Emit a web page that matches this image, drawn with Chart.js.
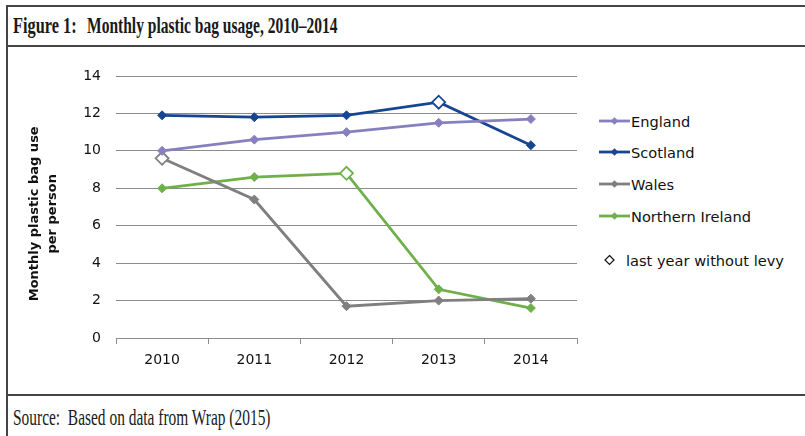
<!DOCTYPE html>
<html>
<head>
<meta charset="utf-8">
<script src="https://cdn.jsdelivr.net/npm/chart.js@4.4.1/dist/chart.umd.min.js"></script>
<style>
  html, body { margin: 0; padding: 0; background: #fff; }
  #page { position: relative; width: 805px; height: 436px; overflow: hidden; background: #fff; }
  .rule { position: absolute; background: #444; }
  .serif { position: absolute; font-family: 'Liberation Serif', 'Times New Roman', serif; font-size: 22px;
           line-height: 22px; white-space: pre; transform-origin: 0 0; color: #1a1a1a; }
  #chartBox { position: absolute; left: 0; top: 50px; width: 590px; height: 340px; }
  .leg { position: absolute; left: 599px; height: 18px; display: flex; align-items: center;
         font-family: 'DejaVu Sans', sans-serif; font-size: 14.6px; color: #111; white-space: nowrap; }
  .leg svg { margin-right: 1px; }
</style>
</head>
<body>
<div id="page">
  <div class="rule" style="left:6px; top:5px; width:800px; height:2px;"></div>
  <div class="rule" style="left:6px; top:5px; width:2px; height:431px;"></div>
  <div class="rule" style="left:6px; top:45px; width:800px; height:2px;"></div>
  <div class="rule" style="left:6px; top:394px; width:800px; height:2px;"></div>

  <div class="serif" style="left:13px; top:14px; font-size:23px; line-height:23px; font-weight:bold; transform:scaleX(0.71);">Figure 1:</div>
  <div class="serif" style="left:87px; top:14px; font-size:23px; line-height:23px; font-weight:bold; transform:scaleX(0.675);">Monthly plastic bag usage, 2010–2014</div>
  <div class="serif" style="left:13px; top:405px; font-size:24px; line-height:24px; transform:scaleX(0.643);">Source:  Based on data from Wrap (2015)</div>

  <div id="chartBox"><canvas id="bagChart"></canvas></div>
  <div id="legend"></div>
</div>

<script>
// data
const years = ['2010', '2011', '2012', '2013', '2014'];
const england = [10.0, 10.6, 11.0, 11.5, 11.7];
const scotland = [11.9, 11.8, 11.9, 12.6, 10.3];
const wales = [9.6, 7.4, 1.7, 2.0, 2.1];
const northernIreland = [8.0, 8.6, 8.8, 2.6, 1.6];
// index of the last year without a levy (hollow marker), -1 = none
const lastNoLevy = { England: -1, Scotland: 3, Wales: 0, 'Northern Ireland': 2 };
const yTicks = [0, 2, 4, 6, 8, 10, 12, 14];

const series = [
    { name: 'England', data: england, color: '#8780bf' },
    { name: 'Scotland', data: scotland, color: '#174690' },
    { name: 'Wales', data: wales, color: '#7f7f7f' },
    { name: 'Northern Ireland', data: northernIreland, color: '#6fb04b' }
];

const datasets = series.map(s => {
    const hollow = i => i === lastNoLevy[s.name];
    return {
        label: s.name,
        data: s.data,
        borderColor: s.color,
        borderWidth: 2.8,
        tension: 0,
        pointStyle: 'rectRot',
        pointRadius: s.data.map((v, i) => hollow(i) ? 6.5 : 4.5),
        pointBackgroundColor: s.data.map((v, i) => hollow(i) ? '#ffffff' : s.color),
        pointBorderColor: s.color,
        pointBorderWidth: s.data.map((v, i) => hollow(i) ? 1.8 : 1)
    };
});

new Chart(document.getElementById('bagChart'), {
    type: 'line',
    data: { labels: years, datasets: datasets },
    options: {
        responsive: true,
        maintainAspectRatio: false,
        animation: false,
        layout: { padding: { left: 0, top: 26, right: 13, bottom: 0 } },
        plugins: { legend: { display: false }, tooltip: { enabled: false } },
        scales: {
            x: {
                offset: true,
                grid: { offset: true, drawOnChartArea: false, color: '#8c8c8c', tickLength: 6 },
                border: { display: true, color: '#8c8c8c', width: 1 },
                ticks: { color: '#111', padding: 8, font: { family: "'DejaVu Sans', sans-serif", size: 14 } },
                afterFit: scale => { scale.height = 52; }
            },
            y: {
                min: 0,
                max: 14,
                afterBuildTicks: scale => { scale.ticks = yTicks.map(v => ({ value: v })); },
                grid: { color: '#8c8c8c', drawTicks: false },
                border: { display: false },
                ticks: { color: '#111', padding: 15, font: { family: "'DejaVu Sans', sans-serif", size: 14 } },
                title: {
                    display: true,
                    // trailing spaces nudge the rotated text a little lower, as in the original
                    text: ['Monthly plastic bag use   ', 'per person   '],
                    color: '#111',
                    padding: { top: 26, bottom: 0 },
                    font: { family: "'DejaVu Sans', sans-serif", size: 13, weight: 'bold', lineHeight: 1.35 }
                },
                afterFit: scale => { scale.width = 116; }
            }
        }
    }
});

// legend: line + diamond swatches, then the hollow-marker note
const legendTops = [121, 152, 184, 216];
const legendEl = document.getElementById('legend');
series.forEach((s, i) => {
    const item = document.createElement('div');
    item.className = 'leg';
    item.style.top = (legendTops[i] - 9) + 'px';
    item.innerHTML =
        '<svg width="31" height="12" viewBox="0 0 31 12">' +
        '<line x1="0" y1="6" x2="31" y2="6" stroke="' + s.color + '" stroke-width="2.8"/>' +
        '<polygon points="15.5,2.2 19.3,6 15.5,9.8 11.7,6" fill="' + s.color + '"/></svg>' + s.name;
    legendEl.appendChild(item);
});
const note = document.createElement('div');
note.className = 'leg';
note.style.top = (260 - 9) + 'px';
note.style.left = '603px';
note.innerHTML =
    '<svg width="13" height="12" viewBox="0 0 13 12" style="margin-right:10px">' +
    '<polygon points="6.5,1.5 11,6 6.5,10.5 2,6" fill="#fff" stroke="#111" stroke-width="1.2"/></svg>last year without levy';
legendEl.appendChild(note);
</script>
</body>
</html>
